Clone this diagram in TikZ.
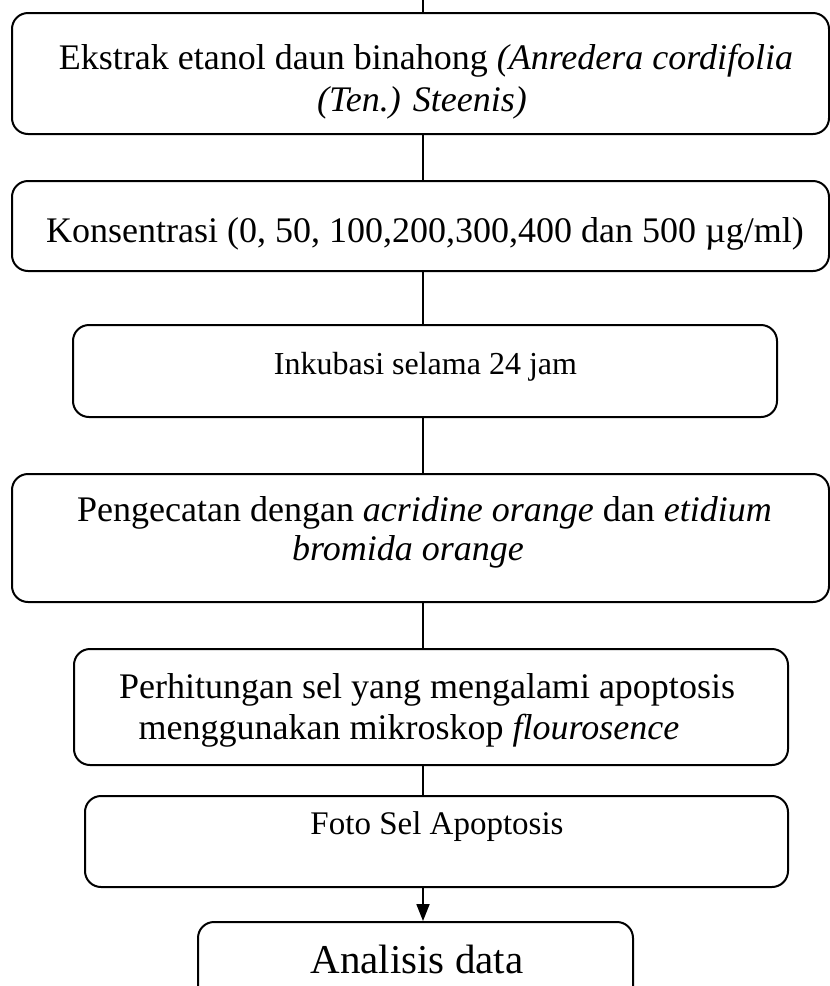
\documentclass[tikz,border=0pt]{standalone}
\usepackage{fontspec}
\setmainfont{Liberation Serif}
\usetikzlibrary{arrows.meta}
\begin{document}
\begin{tikzpicture}[x=1pt,y=-1pt,
  box/.style={draw, line width=2pt, rounded corners=16pt, inner sep=0pt},
  conn/.style={line width=1.8pt},
  txt/.style={anchor=base, inner sep=0pt},
  big/.style={font=\fontsize{36pt}{40pt}\selectfont},
  mid/.style={font=\fontsize{32pt}{36pt}\selectfont},
  large/.style={font=\fontsize{41pt}{46pt}\selectfont}]
\useasboundingbox (0,0) rectangle (830,986);
\clip (0,0) rectangle (830,986);
% boxes
\node[box, minimum width=817pt, minimum height=121pt] (b1) at (420.5,73.5) {};
\node[box, minimum width=817pt, minimum height=90pt]  (b2) at (420.5,226) {};
\node[box, minimum width=704pt, minimum height=92pt]  (b3) at (425,371) {};
\node[box, minimum width=817pt, minimum height=128pt] (b4) at (420.5,538) {};
\node[box, minimum width=714pt, minimum height=116pt] (b5) at (431,707) {};
\node[box, minimum width=703pt, minimum height=91pt]  (b6) at (436.5,841.5) {};
\node[box, minimum width=435pt, minimum height=88pt]  (b7) at (415.5,966) {};
% texts
\node[txt, big] (t1a) at (426,69) {Ekstrak etanol daun binahong \textit{(Anredera cordifolia}};
\node[txt, big] (t1b) at (422,111) {\textit{(Ten.) Steenis)}};
\node[txt, big] (t2) at (425,242) {Konsentrasi (0, 50, 100,200,300,400 dan 500 µg/ml)};
\node[txt, mid] (t3) at (425.5,374) {Inkubasi selama 24 jam};
\node[txt, big] (t4a) at (424.5,521) {Pengecatan dengan \textit{acridine orange} dan \textit{etidium}};
\node[txt, big] (t4b) at (408,560) {\textit{bromida orange}};
\node[txt, big] (t5a) at (427,698) {Perhitungan sel yang mengalami apoptosis};
\node[txt, big] (t5b) at (409,739) {menggunakan mikroskop \textit{flourosence}};
\node[txt, font=\fontsize{33pt}{37pt}\selectfont] (t6) at (437,834) {Foto Sel Apoptosis};
\node[txt, large] (t7) at (417,973) {Analisis data};
% connectors
\coordinate (top) at (423,0);
\draw[conn] (top) -- (top |- b1.north);
\draw[conn] (top |- b1.south) -- (top |- b2.north);
\draw[conn] (top |- b2.south) -- (top |- b3.north);
\draw[conn] (top |- b3.south) -- (top |- b4.north);
\draw[conn] (top |- b4.south) -- (top |- b5.north);
\draw[conn] (top |- b5.south) -- (top |- b6.north);
\draw[conn, -{Triangle[width=13pt,length=17pt]}] (top |- b6.south) -- (top |- b7.north);
\end{tikzpicture}
\end{document}
